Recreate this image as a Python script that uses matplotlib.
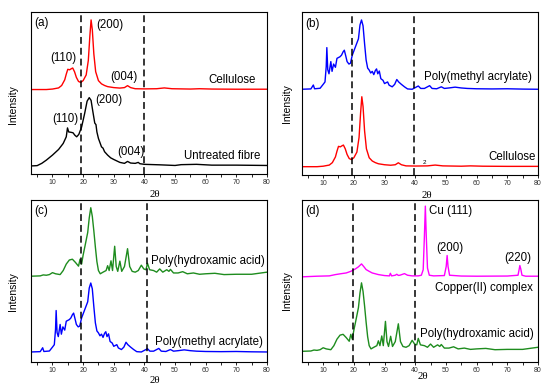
import numpy as np
import matplotlib
matplotlib.use('Agg')
import matplotlib.pyplot as plt
from matplotlib.ticker import MultipleLocator

plt.rcParams['font.family'] = ['Liberation Sans', 'DejaVu Sans']

# --- XRD traces: (2theta, intensity above own baseline, axis %) ---
cellulose = [(3, 0), (8, 0), (10, 0.3), (12, 1.0), (13, 2.5), (14, 6), (14.5, 9.5), (15, 12.5),
             (15.6, 12.2), (16.1, 12.8), (16.6, 13.3), (17.2, 11), (17.8, 7.5), (18.5, 5), (19.2, 4.4),
             (20, 5.5), (21, 9), (21.7, 18), (22.2, 33), (22.6, 43), (23.0, 37), (23.5, 22), (24.1, 11),
             (25, 5.5), (26, 3.5), (27, 2.5), (28, 1.8), (30, 1.2), (32, 0.9), (33.5, 1.2), (34.5, 2.4),
             (35.5, 1.2), (37, 0.5), (40, 0.4), (44, 0.5), (46.5, 1.0), (49, 0.5), (55, 0.3), (58, 0.5),
             (62, 0.3), (70, 0.2), (80, 0.2)]

fibre = [(3, 0), (5, 0.2), (6.5, 1.6), (8, 3.6), (10, 6.7), (12, 10.2), (13.5, 13.9), (14.5, 18),
         (14.9, 23.5), (15.3, 21), (16, 20.8), (16.7, 20.5), (17.3, 19), (17.9, 18), (18.6, 19.5),
         (19.5, 24), (20.5, 32.4), (21.3, 40), (22, 42.2), (22.6, 40.5), (23.1, 34.5), (23.8, 26.5),
         (24.2, 25.5), (24.5, 21), (25, 17), (26, 11.8), (26.5, 11), (27, 8.8), (28, 6.7), (29, 5),
         (30, 4), (32, 2.2), (33.5, 1.6), (34.5, 2.8), (35.5, 1.8), (37, 1.6), (38, 2.2), (38.5, 1.4),
         (40, 1), (45, 0.7), (50, 0.3), (52, 0.8), (57, 1), (62, 0.5), (70, 0.5), (80, 0.3)]

pma = [(3, 0), (6, 0.2), (6.8, 2.6), (7.2, 0.3), (9, 0.6), (10, 3), (10.6, 4.5), (11.0, 14),
       (11.2, 25.6), (11.5, 12), (11.9, 9.5), (12.5, 17), (12.9, 11), (13.4, 15.5), (14, 13.5),
       (14.5, 19), (15.5, 20), (16, 21), (16.5, 23), (16.9, 24), (17.3, 21), (17.8, 17), (18.4, 15.5),
       (18.9, 16), (19.5, 21), (20.5, 26), (21.5, 31), (22, 39.5), (22.5, 42.6), (23, 39), (23.5, 28),
       (24, 18), (24.5, 13), (25, 11.8), (25.5, 10), (26, 11), (26.5, 9), (27, 11.5), (27.4, 12.5),
       (27.8, 9.5), (28.3, 11.2), (28.8, 6.5), (29.5, 5.5), (30, 3.5), (31, 4.5), (31.5, 2.5),
       (32.5, 1.5), (33.3, 3), (34, 6), (34.6, 4.5), (35.5, 3), (36.5, 1.5), (37.5, 0.2), (39, 0),
       (40, 1), (41, 2), (41.8, 0.5), (43, 0.5), (44.7, 2.2), (45.5, 0.5), (47, 0.3), (48.5, 1.5),
       (49.5, 0.5), (51, 0.8), (53, 1.3), (55, 0.8), (57, 0.5), (60, 0.3), (65, 0.2), (70, 0.3),
       (75, 0.1), (80, 0)]

pha = [(3, 0), (6, 0.2), (7, 0.8), (8, 0.6), (9, 1.0), (10, 2.2), (11, 1.5), (12.5, 1), (13.5, 3.5),
       (14.5, 7.5), (15.5, 10), (16.5, 10.5), (17.5, 8.5), (18.5, 6.2), (19, 10.5), (19.5, 7.5),
       (20, 13), (20.6, 18.5), (21.5, 27), (22, 36), (22.5, 42.3), (23, 37), (23.5, 28), (24, 18),
       (24.5, 9), (25, 3.5), (25.6, 1.5), (26.5, 2.5), (27.5, 3.5), (28, 6.5), (28.5, 3.5), (29.1, 9.5),
       (29.6, 3.5), (30.3, 18.5), (30.8, 6), (31.3, 3), (32, 9.3), (32.6, 3), (33.5, 6), (34.5, 17),
       (35.2, 6), (36, 3), (37, 2.5), (38, 3.5), (39, 6.8), (39.8, 4.5), (40.5, 4), (41, 8), (41.7, 4),
       (43, 3.5), (44, 2.5), (45, 4.5), (46, 2.5), (47.3, 4), (48, 3), (48.5, 4.2), (49.5, 2), (51, 2),
       (52.5, 2.8), (54, 1.5), (56, 2), (58, 1.2), (60, 1.5), (63, 1.8), (66, 1), (70, 1.2), (75, 1.2),
       (80, 2.5)]

cu_complex = [(3, -0.4), (8, 0), (12, 0.2), (14, 1), (16, 1.6), (17.5, 2), (19, 3), (20.5, 4.5),
              (21.5, 5.8), (22.5, 7.6), (23.3, 5.8), (24, 4.1), (25, 3), (26, 2), (28, 1), (30, 0.4),
              (31.6, 0.2), (31.9, 1.8), (32.3, 0.2), (33.5, 0.6), (34, 1.2), (34.5, 0.5), (35, 0.6),
              (36.5, 1.6), (37.5, 0.6), (39, 0.2), (41, 0.2), (42, 0.6), (42.6, 4), (43, 25), (43.3, 43.3),
              (43.6, 25), (44, 5), (44.6, 0.6), (46, 0.2), (49.5, 0.4), (50.1, 6), (50.4, 12.8), (50.7, 6),
              (51.2, 0.6), (55, 0.1), (60, 0), (70, 0.1), (73.5, 0.6), (73.9, 4.5), (74.1, 6.6), (74.4, 4.5),
              (74.8, 0.6), (76, 0), (80, 0)]

tick_vals = [10, 20, 30, 40, 50, 60, 70, 80]


def setup(ax, tag, dash_x, xlabel_xy, ylabel_xy):
    ax.set_xlim(3, 80)
    ax.set_ylim(0, 100)
    ax.set_xticks(tick_vals)
    ax.xaxis.set_minor_locator(MultipleLocator(5))
    ax.set_yticks([])
    ax.tick_params(axis='x', which='major', direction='out', length=2.3, width=0.6,
                   labelsize=5, pad=1.5, labelcolor='#333333')
    ax.tick_params(axis='x', which='minor', direction='out', length=2.0, width=0.6)
    for s in ax.spines.values():
        s.set_linewidth(0.8)
    for x in dash_x:
        ax.axvline(x, color='black', lw=1.1, ls=(0, (4.5, 2.6)), zorder=5)
    ax.text(4.2, 93, tag, fontsize=8.5, va='center', ha='left')
    ax.set_xlabel('2θ', family=['Liberation Serif', 'DejaVu Serif'], fontsize=7.8)
    ax.xaxis.set_label_coords(*xlabel_xy)
    ax.set_ylabel('Intensity', fontsize=7.5)
    ax.yaxis.set_label_coords(*ylabel_xy)


def trace(ax, data, offset, color):
    d = np.array(data)
    ax.plot(d[:, 0], d[:, 1] + offset, color=color, lw=1.0, solid_joinstyle='round')


fig = plt.figure(figsize=(5.5, 3.92), dpi=100)
ax_a = fig.add_axes([0.0564, 0.556, 0.429, 0.413])
ax_b = fig.add_axes([0.5485, 0.5536, 0.4296, 0.415])
ax_c = fig.add_axes([0.0564, 0.0765, 0.429, 0.413])
ax_d = fig.add_axes([0.5485, 0.0765, 0.4296, 0.413])

green = '#1e8c1e'
fs = 8.3

# --- (a) ---
trace(ax_a, cellulose, 52.2, '#ff0000')
trace(ax_a, fibre, 5, 'black')
setup(ax_a, '(a)', [19.3, 39.9], (0.525, -0.10), (-0.055, 0.43))
ax_a.text(28.8, 92, '(200)', fontsize=fs, ha='center', va='center')
ax_a.text(13.5, 71.4, '(110)', fontsize=fs, ha='center', va='center')
ax_a.text(33.3, 60, '(004)', fontsize=fs, ha='center', va='center')
ax_a.text(76.4, 58, 'Cellulose', fontsize=fs, ha='right', va='center')
ax_a.text(28.5, 45.7, '(200)', fontsize=fs, ha='center', va='center')
ax_a.text(14.1, 34, '(110)', fontsize=fs, ha='center', va='center')
ax_a.text(35.5, 13.4, '(004)', fontsize=fs, ha='center', va='center')
ax_a.text(77.9, 11.3, 'Untreated fibre', fontsize=fs, ha='right', va='center')

# --- (b) ---
trace(ax_b, pma, 52.7, '#0000ff')
trace(ax_b, cellulose, 5.1, '#ff0000')
setup(ax_b, '(b)', [19.5, 39.5], (0.529, -0.10), (-0.042, 0.436))
ax_b.text(77.9, 60, 'Poly(methyl acrylate)', fontsize=fs, ha='right', va='center')
ax_b.text(79.3, 11.2, 'Cellulose', fontsize=fs, ha='right', va='center')
ax_b.text(43.1, 7.6, '2', fontsize=4.5, ha='center', va='center')

# --- (c) ---
trace(ax_c, pha, 53, green)
trace(ax_c, pma, 6.2, '#0000ff')
setup(ax_c, '(c)', [19.3, 40.7], (0.525, -0.085), (-0.055, 0.434))
ax_c.text(79.3, 62.3, 'Poly(hydroxamic acid)', fontsize=fs, ha='right', va='center')
ax_c.text(78.8, 12.5, 'Poly(methyl acrylate)', fontsize=fs, ha='right', va='center')

# --- (d) ---
trace(ax_d, cu_complex, 53, '#ff00ff')
trace(ax_d, pha, 6.6, green)
setup(ax_d, '(d)', [19.8, 39.8], (0.515, -0.06), (-0.042, 0.444))
ax_d.text(44.5, 93, 'Cu (111)', fontsize=fs, ha='left', va='center')
ax_d.text(51.3, 70.6, '(200)', fontsize=fs, ha='center', va='center')
ax_d.text(73.3, 64.4, '(220)', fontsize=fs, ha='center', va='center')
ax_d.text(78.4, 45.9, 'Copper(II) complex', fontsize=fs, ha='right', va='center')
ax_d.text(78.7, 17.1, 'Poly(hydroxamic acid)', fontsize=fs, ha='right', va='center')

fig.savefig('out.png', dpi=100)
